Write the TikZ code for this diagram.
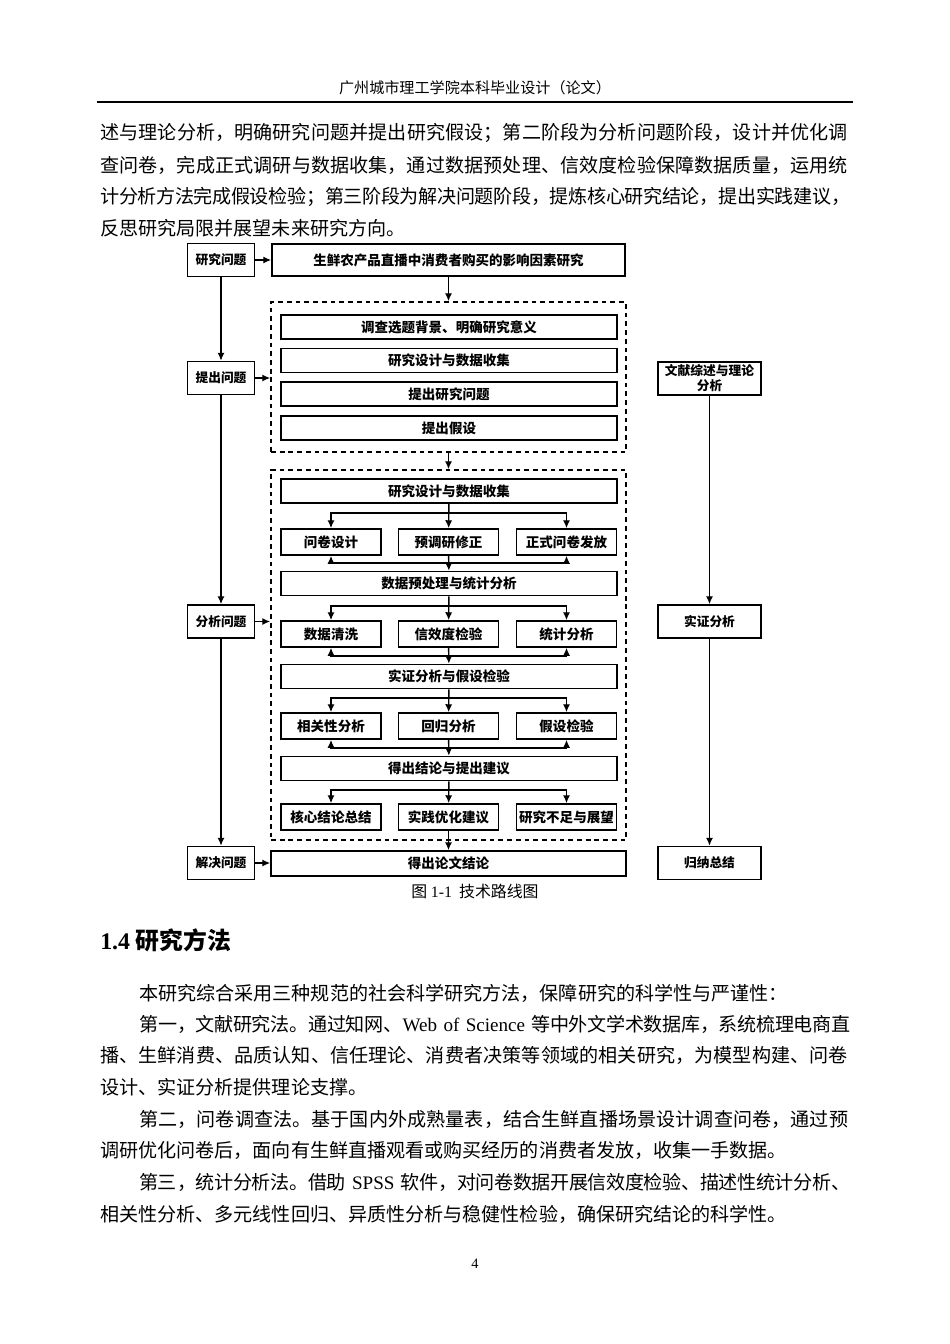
\documentclass[tikz,border=0pt]{standalone}
\usepackage{fontspec}
\setmainfont{Noto Sans CJK SC}
\newfontfamily\tnr{Liberation Serif}
\usetikzlibrary{arrows.meta,positioning}
\XeTeXlinebreaklocale "zh"
\XeTeXlinebreakskip=0pt plus 1pt minus 0.4pt
\newlength{\pxl}
\setlength{\pxl}{0.02211cm}
\newcommand{\bodyfont}{\fontsize{12pt}{14pt}\selectfont}
\newcommand{\headfont}{\fontsize{9.5pt}{11pt}\selectfont}
\newcommand{\boxfont}{\bfseries\fontsize{8.5pt}{10pt}\selectfont}

\begin{document}
\begin{tikzpicture}[
x=\pxl, y=-\pxl,
font=\boxfont,
box/.style={draw, line width=1pt, inner sep=0pt, align=center},
sidebox/.style={box, minimum width=67\pxl, minimum height=33\pxl, font=\bfseries\fontsize{8pt}{9.5pt}\selectfont},
rightbox/.style={box, minimum width=103\pxl, minimum height=33\pxl, font=\bfseries\fontsize{8pt}{9.5pt}\selectfont},
widebox/.style={box, minimum width=336\pxl, minimum height=24\pxl},
smallbox/.style={box, minimum width=100\pxl, minimum height=26\pxl},
stagebox/.style={draw, line width=1pt, dash pattern=on 3pt off 2.5pt, minimum width=355\pxl, inner sep=0pt},
flow/.style={->, line width=0.9pt, >={Latex[length=5pt,width=4.5pt]}},
line/.style={anchor=west, inner sep=0pt, font=\mdseries\bodyfont},
fullline/.style={line, execute at begin node={\noindent\parfillskip=0pt\relax}}
]
    % page
    \fill[white] (0,0) rectangle (950,1344);
    \useasboundingbox (0,0) rectangle (950,1344);

    % Header
    \node[inner sep=0pt, font=\mdseries\headfont] (header) at (475,88) {广州城市理工学院本科毕业设计（论文）};
    \draw[line width=1.2pt] (97,102) -- (853,102);

    % Text above the figure
    \node[fullline, text width=750\pxl] (top1) at (100,133) {述与理论分析，明确研究问题并提出研究假设；第二阶段为分析问题阶段，设计并优化调};
    \node[fullline, text width=750\pxl] (top2) at (100,165) {查问卷，完成正式调研与数据收集，通过数据预处理、信效度检验保障数据质量，运用统};
    \node[fullline, text width=750\pxl] (top3) at (100,197) {计分析方法完成假设检验；第三阶段为解决问题阶段，提炼核心研究结论，提出实践建议，};
    \node[line] (top4) at (100,228) {反思研究局限并展望未来研究方向。};

    % Left column
    \node[sidebox] (wenti) at (221,260) {研究问题};
    \node[sidebox] (tichu) at (221,378) {提出问题};
    \node[sidebox] (fenxi) at (221,621.5) {分析问题};
    \node[sidebox] (jiejue) at (221,863) {解决问题};

    % Right column
    \node[rightbox] (wenxian) at (709.5,378.5) {文献综述与理论\\分析};
    \node[rightbox] (shizheng) at (709.5,621.5) {实证分析};
    \node[rightbox] (guina) at (709.5,863) {归纳总结};

    % Middle column
    \node[box, minimum width=353\pxl, minimum height=32\pxl] (title) at (448.5,260) {生鲜农产品直播中消费者购买的影响因素研究};
    \node[stagebox, minimum height=150\pxl] (stage1) at (448.5,377) {};
    \node[stagebox, minimum height=370\pxl] (stage2) at (448.5,655) {};

    \node[widebox] (bg) at (449,327) {调查选题背景、明确研究意义};
    \node[widebox] (design1) at (449,360.5) {研究设计与数据收集};
    \node[widebox] (question) at (449,394) {提出研究问题};
    \node[widebox] (hypo) at (449,428) {提出假设};

    \node[widebox] (design2) at (449,491) {研究设计与数据收集};
    \node[smallbox] (wjsj) at (331,542) {问卷设计};
    \node[smallbox] (ydy) at (448.5,542) {预调研修正};
    \node[smallbox] (zsff) at (566.5,542) {正式问卷发放};
    \node[widebox] (preproc) at (449,583.5) {数据预处理与统计分析};
    \node[smallbox] (clean) at (331,634) {数据清洗};
    \node[smallbox] (reliab) at (448.5,634) {信效度检验};
    \node[smallbox] (stat) at (566.5,634) {统计分析};
    \node[widebox] (empir) at (449,676.5) {实证分析与假设检验};
    \node[smallbox] (corr) at (331,726) {相关性分析};
    \node[smallbox] (regr) at (448.5,726) {回归分析};
    \node[smallbox] (test) at (566.5,726) {假设检验};
    \node[widebox] (concl) at (449,768.5) {得出结论与提出建议};
    \node[smallbox] (core) at (331,817) {核心结论总结};
    \node[smallbox] (practice) at (448.5,817) {实践优化建议};
    \node[smallbox] (limit) at (566.5,817) {研究不足与展望};

    \node[box, minimum width=355\pxl, minimum height=25\pxl] (final) at (448.5,863.5) {得出论文结论};

    \draw
    (448.5,513) coordinate (split1)
    (448.5,563) coordinate (merge1)
    (448.5,606) coordinate (split2)
    (448.5,656) coordinate (merge2)
    (448.5,698) coordinate (split3)
    (448.5,748) coordinate (merge3)
    (448.5,790) coordinate (split4);

    % Arrows in the left and right columns
    \draw[flow] (wenti) -- (tichu);
    \draw[flow] (tichu) -- (fenxi);
    \draw[flow] (fenxi) -- (jiejue);
    \draw[flow] (wenxian) -- (shizheng);
    \draw[flow] (shizheng) -- (guina);

    \draw[flow] (wenti) -- (title);
    \draw[flow] (tichu.east) -- (tichu.east -| stage1.west);
    \draw[flow] (fenxi.east) -- (fenxi.east -| stage2.west);
    \draw[flow] (jiejue.east) -- (jiejue.east -| final.west);

    \draw[flow] (title) -- (stage1);
    \draw[flow] (stage1) -- (stage2);

    % Stage two
    \draw[flow] (design2) -- (ydy);
    \draw[flow] (split1) -| (wjsj);
    \draw[flow] (split1) -| (zsff);
    \draw[flow] (ydy) -- (preproc);
    \draw[flow] (merge1) -| (wjsj);
    \draw[flow] (merge1) -| (zsff);

    \draw[flow] (preproc) -- (reliab);
    \draw[flow] (split2) -| (clean);
    \draw[flow] (split2) -| (stat);
    \draw[flow] (reliab) -- (empir);
    \draw[flow] (merge2) -| (clean);
    \draw[flow] (merge2) -| (stat);

    \draw[flow] (empir) -- (regr);
    \draw[flow] (split3) -| (corr);
    \draw[flow] (split3) -| (test);
    \draw[flow] (regr) -- (concl);
    \draw[flow] (merge3) -| (corr);
    \draw[flow] (merge3) -| (test);

    \draw[flow] (concl) -- (practice);
    \draw[flow] (split4) -| (core);
    \draw[flow] (split4) -| (limit);
    \draw[flow] (practice) -- (final);

    % Caption
    \node[inner sep=0pt, font=\mdseries\fontsize{10pt}{12pt}\selectfont] (caption) at (475,891) {图 {\tnr 1-1}\ \ 技术路线图};

    % Section 1.4
    \node[line, font=\bfseries\fontsize{15pt}{18pt}\selectfont] (section) at (100,940) {{\tnr\bfseries 1.4} 研究方法};
    \node[line] (para1) at (139,993) {本研究综合采用三种规范的社会科学研究方法，保障研究的科学性与严谨性：};
    \node[fullline, text width=711\pxl] (para2) at (139,1024) {第一，文献研究法。通过知网、{\tnr Web of Science\ }等中外文学术数据库，系统梳理电商直};
    \node[fullline, text width=750\pxl] (para3) at (100,1055) {播、生鲜消费、品质认知、信任理论、消费者决策等领域的相关研究，为模型构建、问卷};
    \node[line] (para4) at (100,1087) {设计、实证分析提供理论支撑。};
    \node[fullline, text width=711\pxl] (para5) at (139,1119) {第二，问卷调查法。基于国内外成熟量表，结合生鲜直播场景设计调查问卷，通过预};
    \node[line] (para6) at (100,1150) {调研优化问卷后，面向有生鲜直播观看或购买经历的消费者发放，收集一手数据。};
    \node[fullline, text width=711\pxl] (para7) at (139,1182) {第三，统计分析法。借助{\tnr\ SPSS\ }软件，对问卷数据开展信效度检验、描述性统计分析、};
    \node[line] (para8) at (100,1214) {相关性分析、多元线性回归、异质性分析与稳健性检验，确保研究结论的科学性。};

    % Page number
    \node[inner sep=0pt, font=\tnr\fontsize{9pt}{11pt}\selectfont] (pageno) at (475,1264) {4};
\end{tikzpicture}
\end{document}
